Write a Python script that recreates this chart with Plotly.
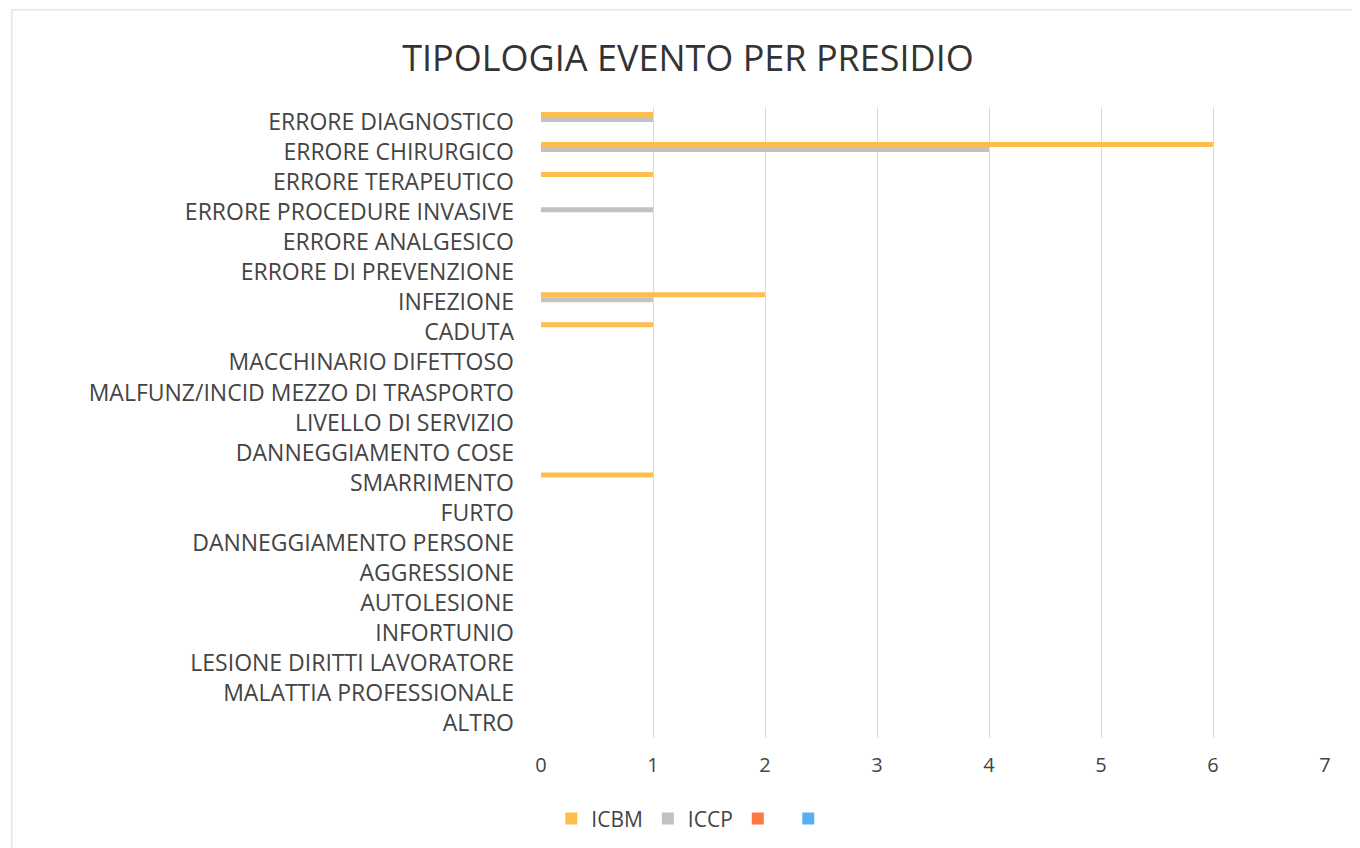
import plotly.graph_objects as go

categories = ['ERRORE DIAGNOSTICO', 'ERRORE CHIRURGICO', 'ERRORE TERAPEUTICO',
              'ERRORE PROCEDURE INVASIVE', 'ERRORE ANALGESICO', 'ERRORE DI PREVENZIONE',
              'INFEZIONE', 'CADUTA', 'MACCHINARIO DIFETTOSO',
              'MALFUNZ/INCID MEZZO DI TRASPORTO', 'LIVELLO DI SERVIZIO', 'DANNEGGIAMENTO COSE',
              'SMARRIMENTO', 'FURTO', 'DANNEGGIAMENTO PERSONE', 'AGGRESSIONE', 'AUTOLESIONE',
              'INFORTUNIO', 'LESIONE DIRITTI LAVORATORE', 'MALATTIA PROFESSIONALE', 'ALTRO']

icbm = [1, 6, 1, 0, 0, 0, 2, 1, 0, 0, 0, 0, 1, 0, 0, 0, 0, 0, 0, 0, 0]
iccp = [1, 4, 0, 1, 0, 0, 1, 0, 0, 0, 0, 0, 0, 0, 0, 0, 0, 0, 0, 0, 0]
serie3 = [0] * 21
serie4 = [0] * 21

series_names = ['ICBM', 'ICCP', ' ', '  ']
series_colors = ['#FDBE4E', '#C2C2C6', '#FF7744', '#58B0F2']

fig = go.Figure()
for name, vals, col in zip(series_names, [icbm, iccp, serie3, serie4], series_colors):
    fig.add_trace(go.Bar(y=categories, x=vals, orientation='h', name=name,
                         marker_color=col, marker_line_width=0))

# the page body adds an 8px offset, margins are set with that in mind
fig.update_layout(
    width=1360, height=848,
    paper_bgcolor='white', plot_bgcolor='white',
    font=dict(family='Open Sans, Noto Sans, sans-serif', color='#444444', size=22),
    title=dict(text='TIPOLOGIA EVENTO PER PRESIDIO', x=0.5, xanchor='center',
               y=0.941, yanchor='middle', font=dict(size=36, color='#333333')),
    barmode='group', bargap=0.33, bargroupgap=0,
    margin=dict(l=533, r=43, t=99, b=118),
    showlegend=True,
    legend=dict(orientation='h', x=0.2, xanchor='center', y=-0.128, yanchor='middle',
                font=dict(size=21, color='#444444'), itemwidth=30, traceorder='normal'),
    shapes=[dict(type='rect', xref='paper', yref='paper',
                 x0=-0.675, x1=1.041, y0=-0.2, y1=1.154,
                 line=dict(color='#D8D8E0', width=1), layer='below')],
)
fig.update_xaxes(range=[0, 7], dtick=1, showgrid=True, gridcolor='#DADAE6', gridwidth=1,
                 zeroline=False, showline=False, ticks='', ticklabelstandoff=13,
                 tickfont=dict(size=20, color='#444444'), fixedrange=True)
fig.update_yaxes(autorange='reversed', showgrid=False, zeroline=False, showline=False,
                 ticks='', ticklabelstandoff=26, tickfont=dict(size=23, color='#444444'))

fig.write_html("out.html")
